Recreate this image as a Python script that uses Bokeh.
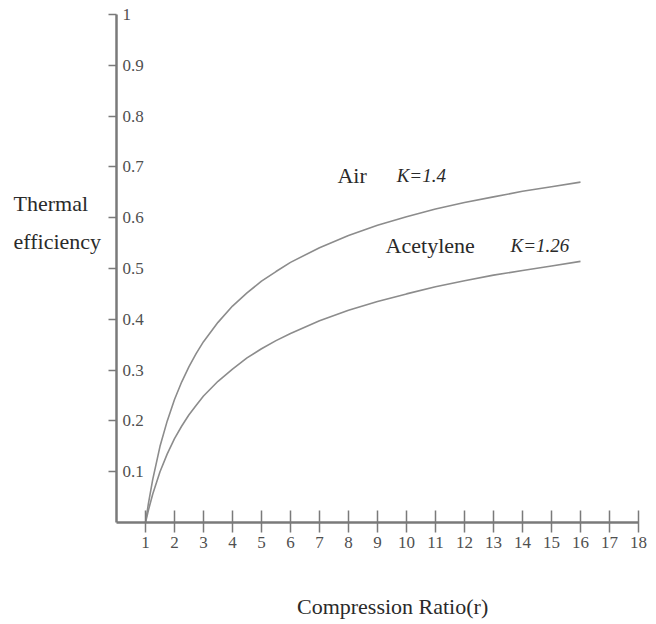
from bokeh.plotting import figure
from bokeh.models import Range1d, FixedTicker, Label, LabelSet, ColumnDataSource
from bokeh.embed import file_html
from bokeh.resources import INLINE

# Data
ratio = [1, 1.1, 1.25, 1.5, 1.75, 2, 2.25, 2.5, 2.75, 3, 3.5, 4, 4.5, 5, 5.5, 6,
         7, 8, 9, 10, 11, 12, 13, 14, 15, 16]
air_eff = [0.0, 0.037, 0.085, 0.150, 0.200, 0.242, 0.277, 0.307, 0.333, 0.356,
           0.394, 0.426, 0.452, 0.475, 0.494, 0.512, 0.541, 0.565, 0.585, 0.602,
           0.617, 0.630, 0.641, 0.652, 0.661, 0.670]
acet_eff = [0.0, 0.024, 0.056, 0.100, 0.135, 0.165, 0.190, 0.212, 0.231, 0.249,
            0.278, 0.302, 0.324, 0.342, 0.358, 0.372, 0.397, 0.418, 0.435, 0.450,
            0.464, 0.476, 0.487, 0.496, 0.505, 0.514]
x_ticks = list(range(1, 19))
y_ticks = [0.1, 0.2, 0.3, 0.4, 0.5, 0.6, 0.7, 0.8, 0.9, 1.0]
y_tick_labels = ["0.1", "0.2", "0.3", "0.4", "0.5", "0.6", "0.7", "0.8", "0.9", "1"]

SERIF = "Liberation Serif"
AXIS_COL = "#7a7a7a"
LINE_COL = "#8c8c8c"
TEXT_COL = "#2a2a2a"
TICK_TXT = "#505050"

W, H = 650, 620
# frame covers the whole canvas; axes are pinned at the data origin
p = figure(width=W, height=H,
           x_range=Range1d(-116 / 29, (W - 116) / 29),
           y_range=Range1d(-(H - 522) / 508, 522 / 508),
           output_backend="svg", toolbar_location=None,
           min_border=0, min_border_left=0, min_border_right=0,
           min_border_top=0, min_border_bottom=0)
p.outline_line_color = None
p.xgrid.grid_line_color = None
p.ygrid.grid_line_color = None
p.background_fill_color = "white"
p.border_fill_color = "white"

# X axis
xa = p.xaxis[0]
xa.fixed_location = 0
xa.bounds = (0, 18)
xa.ticker = FixedTicker(ticks=x_ticks)
xa.minor_tick_line_color = None
xa.axis_line_color = AXIS_COL
xa.axis_line_width = 2.5
xa.major_tick_line_color = AXIS_COL
xa.major_tick_line_width = 1.5
xa.major_tick_in = 12
xa.major_tick_out = 10
xa.major_label_text_font = SERIF
xa.major_label_text_font_size = "17px"
xa.major_label_text_color = TICK_TXT
xa.major_label_standoff = 4

# Y axis (labels drawn to the right of the axis line)
ya = p.yaxis[0]
ya.fixed_location = 0
ya.bounds = (0, 1)
ya.ticker = FixedTicker(ticks=y_ticks)
ya.minor_tick_line_color = None
ya.axis_line_color = AXIS_COL
ya.axis_line_width = 2.5
ya.major_tick_line_color = AXIS_COL
ya.major_tick_line_width = 1.5
ya.major_tick_in = 0
ya.major_tick_out = 8
ya.major_label_text_font_size = "0px"
ya.major_label_text_alpha = 0

ylab_src = ColumnDataSource(dict(x=[0] * len(y_ticks), y=y_ticks, t=y_tick_labels))
p.add_layout(LabelSet(x="x", y="y", text="t", source=ylab_src, x_offset=6,
                      text_baseline="middle", text_align="left",
                      text_font=SERIF, text_font_size="17px", text_color=TICK_TXT))

# Curves
p.line(ratio, air_eff, line_color=LINE_COL, line_width=1.6)
p.line(ratio, acet_eff, line_color=LINE_COL, line_width=1.6)

def lab(x, y, text, size="22px", style="normal", align="left"):
    p.add_layout(Label(x=x, y=y, text=text, text_font=SERIF, text_font_size=size,
                       text_font_style=style, text_color=TEXT_COL,
                       text_baseline="middle", text_align=align))

lab(7.62, 0.683, "Air")
lab(9.66, 0.683, "K=1.4", style="italic", size="19px")
lab(9.28, 0.545, "Acetylene")
lab(13.59, 0.545, "K=1.26", style="italic", size="19px")

lab(-3.55, 0.628, "Thermal")
lab(-3.55, 0.553, "efficiency")
lab(9.52, -0.165, "Compression Ratio(r)", align="center")

open("out.html", "w").write(file_html(p, INLINE))
